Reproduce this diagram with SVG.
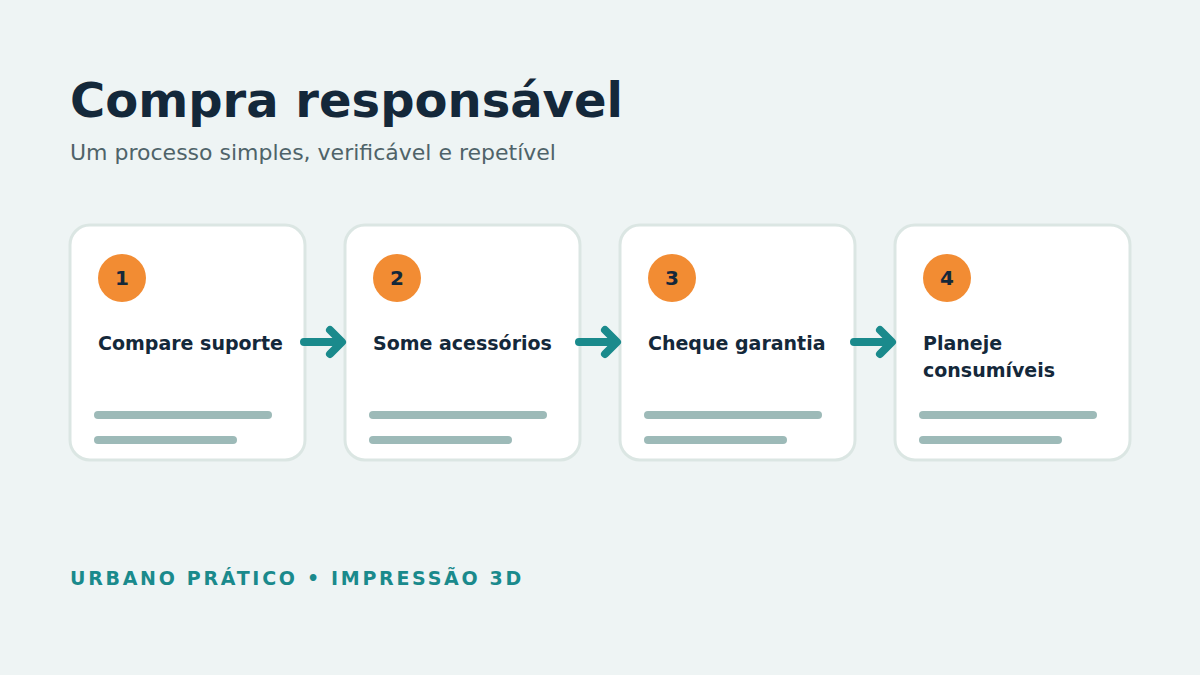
<svg xmlns="http://www.w3.org/2000/svg" width="1200" height="675" viewBox="0 0 1200 675">
<style>
.card{fill:#ffffff;stroke:#dbe6e3;stroke-width:3}
.badge{fill:#f28c33}
.num{font-family:"DejaVu Sans",sans-serif;font-weight:bold;font-size:20px;fill:#14283a;text-anchor:middle}
.lbl{font-family:"DejaVu Sans",sans-serif;font-weight:bold;font-size:19px;fill:#14283a}
.bar{stroke:#9dbab8;stroke-width:8;stroke-linecap:round}
.arr{fill:none;stroke:#1a8a8c;stroke-width:8;stroke-linecap:round;stroke-linejoin:round}
</style>
<rect width="1200" height="675" fill="#eef4f4"/>
<text x="70" y="117" font-family="DejaVu Sans, sans-serif" font-weight="bold" font-size="48" fill="#14283a">Compra responsável</text>
<text x="70" y="160" font-family="DejaVu Sans, sans-serif" font-size="22" fill="#4f6369">Um processo simples, verificável e repetível</text>
<g id="step1">
<rect class="card" x="70" y="225" width="235" height="235" rx="20"/>
<circle class="badge" cx="122" cy="278" r="24"/>
<text class="num" x="122" y="285">1</text>
<text class="lbl" x="98" y="350">Compare suporte</text>
<line class="bar" x1="98" y1="415" x2="268" y2="415"/>
<line class="bar" x1="98" y1="440" x2="233" y2="440"/>
</g>
<g id="step2">
<rect class="card" x="345" y="225" width="235" height="235" rx="20"/>
<circle class="badge" cx="397" cy="278" r="24"/>
<text class="num" x="397" y="285">2</text>
<text class="lbl" x="373" y="350">Some acessórios</text>
<line class="bar" x1="373" y1="415" x2="543" y2="415"/>
<line class="bar" x1="373" y1="440" x2="508" y2="440"/>
</g>
<g id="step3">
<rect class="card" x="620" y="225" width="235" height="235" rx="20"/>
<circle class="badge" cx="672" cy="278" r="24"/>
<text class="num" x="672" y="285">3</text>
<text class="lbl" x="648" y="350">Cheque garantia</text>
<line class="bar" x1="648" y1="415" x2="818" y2="415"/>
<line class="bar" x1="648" y1="440" x2="783" y2="440"/>
</g>
<g id="step4">
<rect class="card" x="895" y="225" width="235" height="235" rx="20"/>
<circle class="badge" cx="947" cy="278" r="24"/>
<text class="num" x="947" y="285">4</text>
<text class="lbl" x="923" y="350">Planeje</text>
<text class="lbl" x="923" y="377">consumíveis</text>
<line class="bar" x1="923" y1="415" x2="1093" y2="415"/>
<line class="bar" x1="923" y1="440" x2="1058" y2="440"/>
</g>
<g id="connectors">
<path class="arr" d="M304 342H340M330 330L342 342L330 354"/>
<path class="arr" d="M579 342H615M605 330L617 342L605 354"/>
<path class="arr" d="M854 342H890M880 330L892 342L880 354"/>
</g>
<text x="70" y="585" font-family="DejaVu Sans, sans-serif" font-weight="bold" font-size="19" letter-spacing="2.7" fill="#1a8a8c">URBANO PRÁTICO • IMPRESSÃO 3D</text>
</svg>
